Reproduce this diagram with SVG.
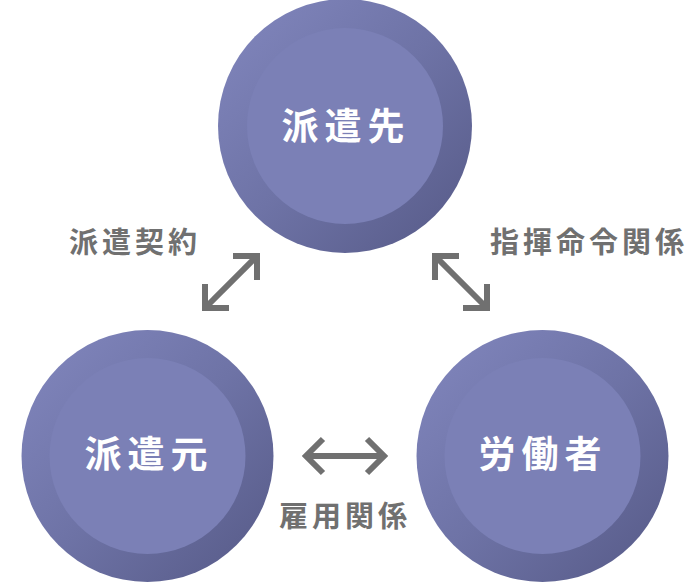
<svg xmlns="http://www.w3.org/2000/svg" width="690" height="584" viewBox="0 0 690 584">
<style>
.ring{fill:url(#ringGrad)}
.core{fill:#7b80b6}
.nlabel{font-family:"Noto Sans CJK JP","Noto Sans",sans-serif;font-weight:700;font-size:37px;fill:#ffffff;letter-spacing:6px;text-anchor:middle;dominant-baseline:central}
.elabel{font-family:"Noto Sans CJK JP","Noto Sans",sans-serif;font-weight:700;font-size:29px;fill:#707070;letter-spacing:4px;text-anchor:middle;dominant-baseline:central}
.arr{fill:none;stroke:#707070;stroke-width:6;stroke-linejoin:miter;stroke-linecap:butt}
</style>
<defs>
<linearGradient id="ringGrad" x1="0.15" y1="0.15" x2="0.85" y2="0.85">
<stop offset="0" stop-color="#7c81b7"/>
<stop offset="0.5" stop-color="#6e73a6"/>
<stop offset="1" stop-color="#5d6190"/>
</linearGradient>
</defs>
<rect width="690" height="584" fill="#ffffff"/>
<g id="node-hakensaki">
<circle class="ring" cx="345" cy="126" r="127"/>
<circle class="core" cx="345" cy="126" r="98"/>
<text class="nlabel" x="346" y="124">派遣先</text>
</g>
<g id="node-hakenmoto">
<circle class="ring" cx="147.5" cy="456" r="126"/>
<circle class="core" cx="147.5" cy="456" r="98"/>
<text class="nlabel" x="149" y="452">派遣元</text>
</g>
<g id="node-roudousha">
<circle class="ring" cx="542.5" cy="456" r="126"/>
<circle class="core" cx="542.5" cy="456" r="98"/>
<text class="nlabel" x="543" y="452">労働者</text>
</g>
<g id="connectors">
<g id="edge-haken-keiyaku">
<line class="arr" x1="257" y1="256" x2="205" y2="308"/>
<polyline class="arr" points="233,256 257,256 257,280"/>
<polyline class="arr" points="205,284 205,308 229,308"/>
<text class="elabel" x="135" y="240">派遣契約</text>
</g>
<g id="edge-shiki-meirei">
<line class="arr" x1="435" y1="256" x2="487" y2="308"/>
<polyline class="arr" points="459,256 435,256 435,280"/>
<polyline class="arr" points="487,284 487,308 463,308"/>
<text class="elabel" x="589" y="240">指揮命令関係</text>
</g>
<g id="edge-koyou">
<line class="arr" x1="306" y1="456" x2="384" y2="456"/>
<polyline class="arr" points="323,439 306,456 323,473"/>
<polyline class="arr" points="367,439 384,456 367,473"/>
<text class="elabel" x="345" y="514">雇用関係</text>
</g>
</g>
</svg>
